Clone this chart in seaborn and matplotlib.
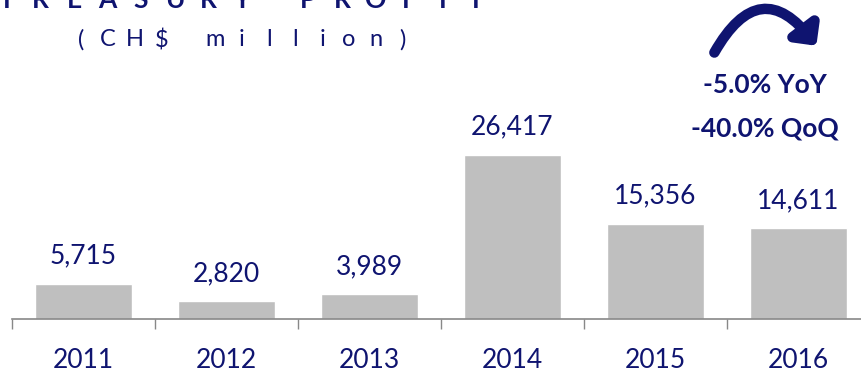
import matplotlib
matplotlib.use("Agg")
import matplotlib.pyplot as plt
import seaborn as sns
import pandas as pd
from matplotlib.patches import FancyArrowPatch

# data
years = ["2011", "2012", "2013", "2014", "2015", "2016"]
profit = [5715, 2820, 3989, 26417, 15356, 14611]
title = "TREASURY PROFIT"
subtitle = "(CH$ million)"
yoy_text = "-5.0% YoY"
qoq_text = "-40.0% QoQ"

navy = "#0F1470"
bar_grey = "#BFBFBF"

sns.set_theme(style="white")
plt.rcParams["font.family"] = ["Lato", "DejaVu Sans"]

df = pd.DataFrame({"year": years, "profit": profit})

fig = plt.figure(figsize=(8.62, 3.72), dpi=100)
ax = fig.add_axes([12 / 862, 53 / 372, 858 / 862, 319 / 372])

sns.barplot(data=df, x="year", y="profit", color=bar_grey, width=0.68,
            saturation=1, ax=ax)

ax.set_xlim(-0.5, 5.5)
ax.set_ylim(0, 51385)

# value labels
for i, v in enumerate(profit):
    ax.annotate(f"{v:,}", (i, v), xytext=(0, 20), textcoords="offset points",
                ha="center", va="center", fontsize=19, color=navy)

# axis styling
for s in ["top", "right", "left"]:
    ax.spines[s].set_visible(False)
ax.spines["bottom"].set_color("#888888")
ax.spines["bottom"].set_linewidth(1.2)
ax.set_yticks([])
ax.set_xlabel("")
ax.set_ylabel("")
ax.set_xticks([i - 0.5 for i in range(6)], minor=True)
ax.tick_params(axis="x", which="minor", bottom=True, length=7, width=1,
               color="#888888", direction="out")
ax.tick_params(axis="x", which="major", bottom=False, labelsize=19,
               labelcolor=navy, pad=15)
for lab in ax.get_xticklabels():
    lab.set_family(["Liberation Sans Narrow", "Lato", "DejaVu Sans"])

# letter-spaced titles
for k, ch in enumerate(title):
    fig.text((7 + 33.5 * k) / 862, 1 - 8 / 372, ch, ha="center",
             va="baseline", fontsize=19, fontweight="bold", color=navy)
for k, ch in enumerate(subtitle):
    fig.text((81 + 26.8 * k) / 862, 1 - 40 / 372, ch, ha="center",
             va="center", fontsize=17, color=navy)

# curved arrow and change texts
arrow = FancyArrowPatch((713 / 862, 1 - 55 / 372), (818 / 862, 1 - 48 / 372),
                        transform=fig.transFigure,
                        connectionstyle="arc3,rad=-0.78",
                        arrowstyle="-|>,head_length=5,head_width=5",
                        lw=7.5, color=navy, mutation_scale=2)
fig.patches.append(arrow)
fig.text(765 / 862, 1 - 85 / 372, yoy_text, ha="center", va="center",
         fontsize=19, fontweight="bold", color=navy)
fig.text(765 / 862, 1 - 129 / 372, qoq_text, ha="center", va="center",
         fontsize=19, fontweight="bold", color=navy)

fig.savefig("out.png", dpi=100)
